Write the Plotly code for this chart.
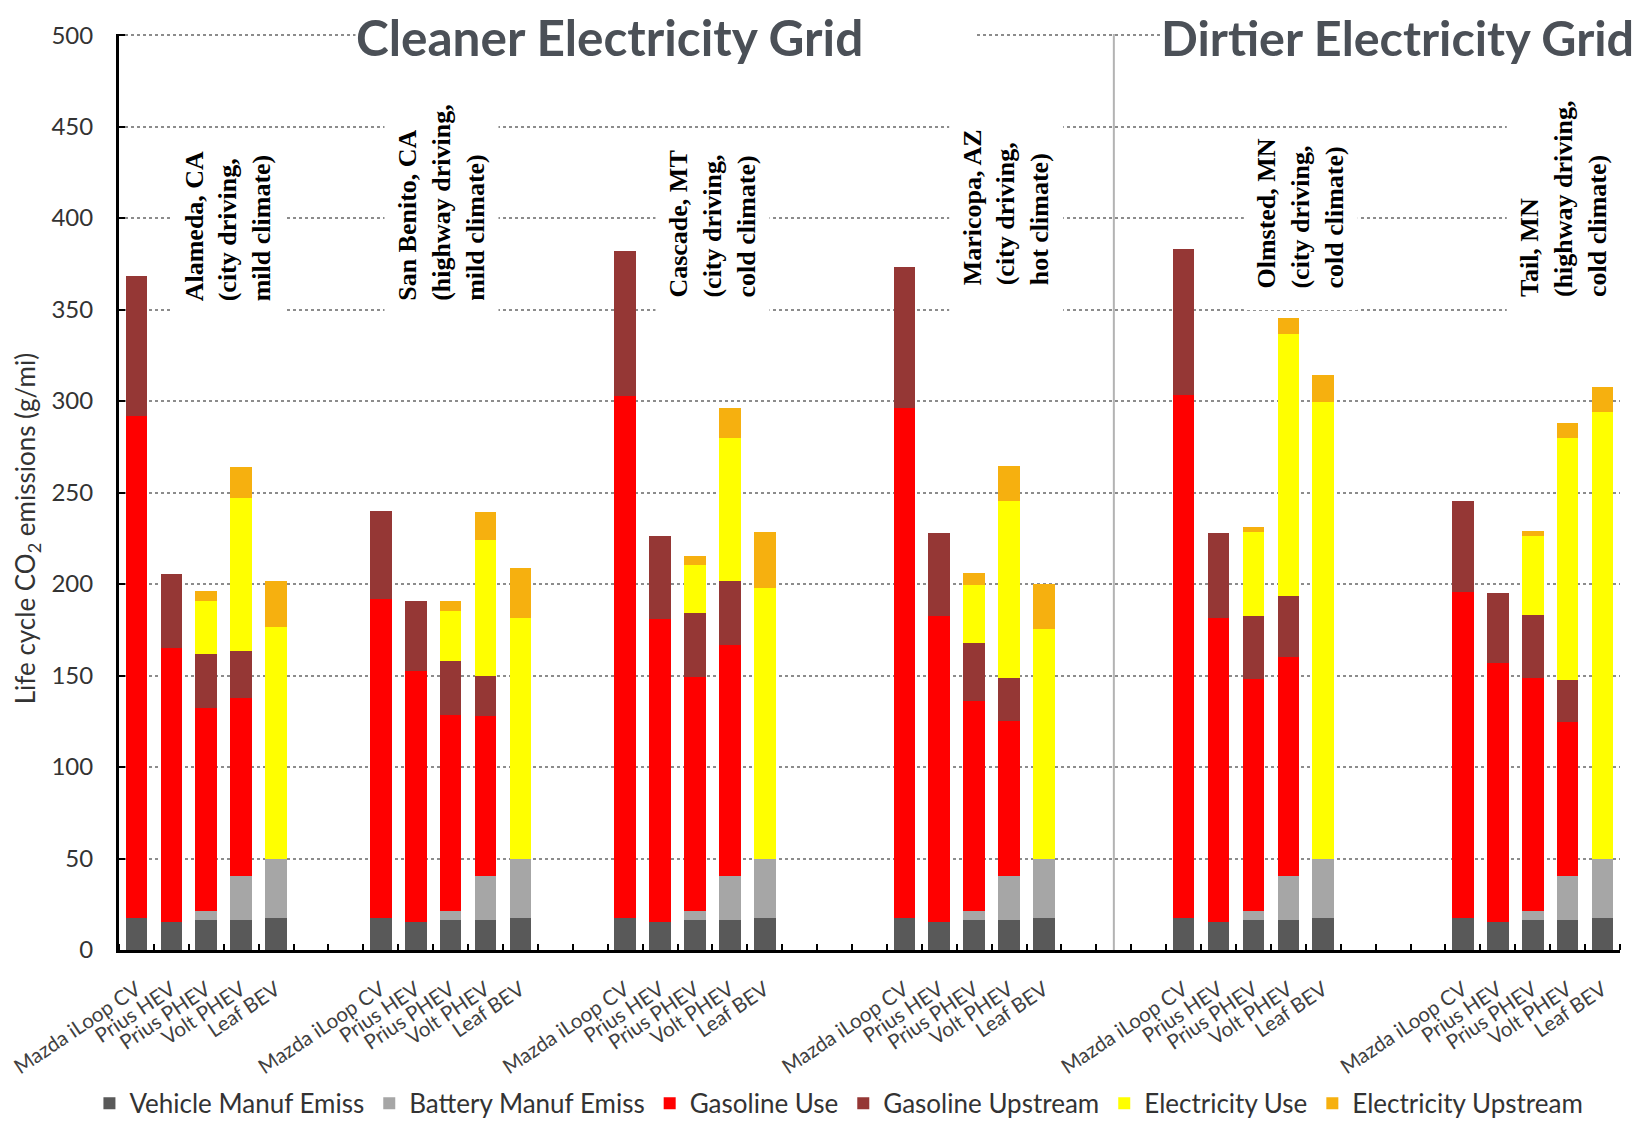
import plotly.graph_objects as go

# ---------------- data ----------------
vehicles = ["Mazda iLoop CV", "Prius HEV", "Prius PHEV", "Volt PHEV", "Leaf BEV"]
location_labels = [
    "Alameda, CA<br>(city driving,<br>mild climate)",
    "San Benito, CA<br>(highway driving,<br>mild climate)",
    "Cascade, MT<br>(city driving,<br>cold climate)",
    "Maricopa, AZ<br>(city driving,<br>hot climate)",
    "Olmsted, MN<br>(city driving,<br>cold climate)",
    "Tail, MN<br>(highway driving,<br>cold climate)",
]
# values per bar: 6 locations x 5 vehicles (g CO2 / mi)
vehicle_manuf = [17.5, 15.5, 16.5, 16.5, 17.5,
                 17.5, 15.5, 16.5, 16.5, 17.5,
                 17.5, 15.5, 16.5, 16.5, 17.5,
                 17.5, 15.5, 16.5, 16.5, 17.5,
                 17.5, 15.5, 16.5, 16.5, 17.5,
                 17.5, 15.5, 16.5, 16.5, 17.5]
battery_manuf = [0, 0, 5, 24, 32.5,
                 0, 0, 5, 24, 32.5,
                 0, 0, 5, 24, 32.5,
                 0, 0, 5, 24, 32.5,
                 0, 0, 5, 24, 32.5,
                 0, 0, 5, 24, 32.5]
gasoline_use = [274.5, 149.8, 110.5, 97.0, 0,
                174.3, 137.2, 107.2, 87.3, 0,
                285.2, 165.5, 127.6, 126.3, 0,
                278.5, 166.9, 114.5, 84.8, 0,
                285.8, 166.0, 126.7, 119.8, 0,
                177.9, 141.2, 127.1, 84.3, 0]
gasoline_upstream = [76.5, 40.2, 29.7, 26.1, 0,
                     48.2, 37.8, 29.3, 22.2, 0,
                     79.5, 45.0, 35.1, 34.9, 0,
                     77.0, 45.6, 31.7, 23.3, 0,
                     79.8, 46.3, 34.6, 33.3, 0,
                     50.1, 38.3, 34.4, 23.0, 0]
electricity_use = [0, 0, 28.8, 83.5, 126.5,
                   0, 0, 27.5, 74.2, 131.5,
                   0, 0, 26.2, 78.3, 148.1,
                   0, 0, 31.8, 96.9, 125.2,
                   0, 0, 45.6, 142.8, 249.6,
                   0, 0, 43.0, 132.2, 244.2]
electricity_upstream = [0, 0, 5.8, 17.0, 24.9,
                        0, 0, 5.5, 15.0, 27.1,
                        0, 0, 4.8, 16.4, 30.6,
                        0, 0, 6.7, 19.0, 24.9,
                        0, 0, 3.0, 9.1, 14.6,
                        0, 0, 3.0, 8.2, 13.3]
y_ticks = [0, 50, 100, 150, 200, 250, 300, 350, 400, 450, 500]

series = [
    ("Vehicle Manuf Emiss", vehicle_manuf, "#595959"),
    ("Battery Manuf Emiss", battery_manuf, "#a6a6a6"),
    ("Gasoline Use", gasoline_use, "#ff0000"),
    ("Gasoline Upstream", gasoline_upstream, "#953735"),
    ("Electricity Use", electricity_use, "#ffff00"),
    ("Electricity Upstream", electricity_upstream, "#f6b00f"),
]

# ---------------- layout helpers ----------------
group_start_slot = [0, 7, 14, 22, 30, 38]          # category slot of first bar of each group
label_offset_slot = [2.62, 1.75, 2.51, 2.91, 3.36, 2.9]
label_bottom_value = [328.5, 328.5, 330.2, 337.3, 349.7, 330.7]
label_pad_spaces = [6, 6, 6, 6, 2, 6]
separator_slot = 28

x_pos, x_text = [], []
for start in group_start_slot:
    for i, v in enumerate(vehicles):
        x_pos.append(start + i)
        x_text.append(v)

fig = go.Figure()
for name, vals, color in series:
    fig.add_trace(go.Bar(
        x=x_pos, y=vals, name=name, width=0.62,
        marker=dict(color=color, line=dict(width=0)),
    ))

for start, off, yb, npad, lab in zip(group_start_slot, label_offset_slot, label_bottom_value,
                                     label_pad_spaces, location_labels):
    pad = "&nbsp;" * npad
    txt = "<br>".join(pad + part for part in lab.split("<br>"))
    fig.add_annotation(
        x=start + off, y=yb, xref="x", yref="y", text=txt, showarrow=False,
        textangle=-90, align="left", xanchor="center", yanchor="bottom",
        font=dict(family="Liberation Serif, Times New Roman, serif", size=26,
                  color="black", weight="bold"),
        bgcolor="white", borderpad=8,
    )

title_family = "Lato, Liberation Sans, sans-serif"
fig.add_annotation(x=0.1572, y=0.9968, xref="paper", yref="paper",
                   text="<b>Cleaner Electricity Grid</b>", showarrow=False, xanchor="left",
                   yanchor="middle", align="left", width=620, bgcolor="white", borderpad=0,
                   font=dict(family=title_family, size=49.5, color="#4b5057", weight="bold"))
fig.add_annotation(x=0.6935, y=0.9968, xref="paper", yref="paper",
                   text="<b>Dirtier Electricity Grid</b>", showarrow=False, xanchor="left",
                   yanchor="middle", align="left", width=480, bgcolor="white", borderpad=0,
                   font=dict(family=title_family, size=48.5, color="#4b5057", weight="bold"))

# y-axis title (placed like the original, slightly below the axis centre)
fig.add_annotation(x=-0.0618, y=0.4596, xref="paper", yref="paper",
                   text="Life cycle CO<sub>2</sub> emissions (g/mi)", showarrow=False,
                   textangle=-90, xanchor="center", yanchor="middle",
                   font=dict(family="Lato, Noto Sans, sans-serif", size=26, color="#333333"))

fig.add_shape(type="line", xref="x", yref="y", x0=separator_slot, x1=separator_slot,
              y0=-12.5, y1=514, line=dict(color="#b3b3b3", width=2), layer="above")

fig.update_layout(
    width=1642, height=1116,
    margin=dict(l=111, r=30, t=26, b=174, autoexpand=False),
    paper_bgcolor="white", plot_bgcolor="white",
    barmode="stack", bargap=0,
    font=dict(family="Lato, Noto Sans, sans-serif", color="#333333"),
    showlegend=True,
    legend=dict(orientation="h", x=-0.0197, xanchor="left", y=-0.1675, yanchor="middle",
                font=dict(size=26, color="#333333"), traceorder="normal",
                itemwidth=30, bgcolor="rgba(0,0,0,0)"),
    xaxis=dict(
        range=[-0.5, 42.5], tickvals=x_pos, ticktext=x_text, tickangle=-34,
        ticks="", showline=True, linecolor="black", linewidth=2.5,
        showgrid=False, zeroline=False, automargin=False, ticklabeloverflow="allow",
        tickfont=dict(size=20.5, color="#404040"), ticklabelstandoff=17,
        minor=dict(tick0=0.5, dtick=1, ticks="inside", ticklen=6, tickcolor="black",
                   tickwidth=1.5, showgrid=False),
    ),
    yaxis=dict(
        range=[0, 500.6], tickvals=y_ticks, showline=True, linecolor="black", linewidth=3,
        ticks="inside", ticklen=6, tickcolor="black", tickwidth=1.5,
        showgrid=True, gridcolor="#8c8c8c", griddash="dot", gridwidth=1.5,
        zeroline=False, automargin=False,
        tickfont=dict(size=24, color="#333333"), ticklabelstandoff=18,
    ),
)

fig.write_html("out.html")
